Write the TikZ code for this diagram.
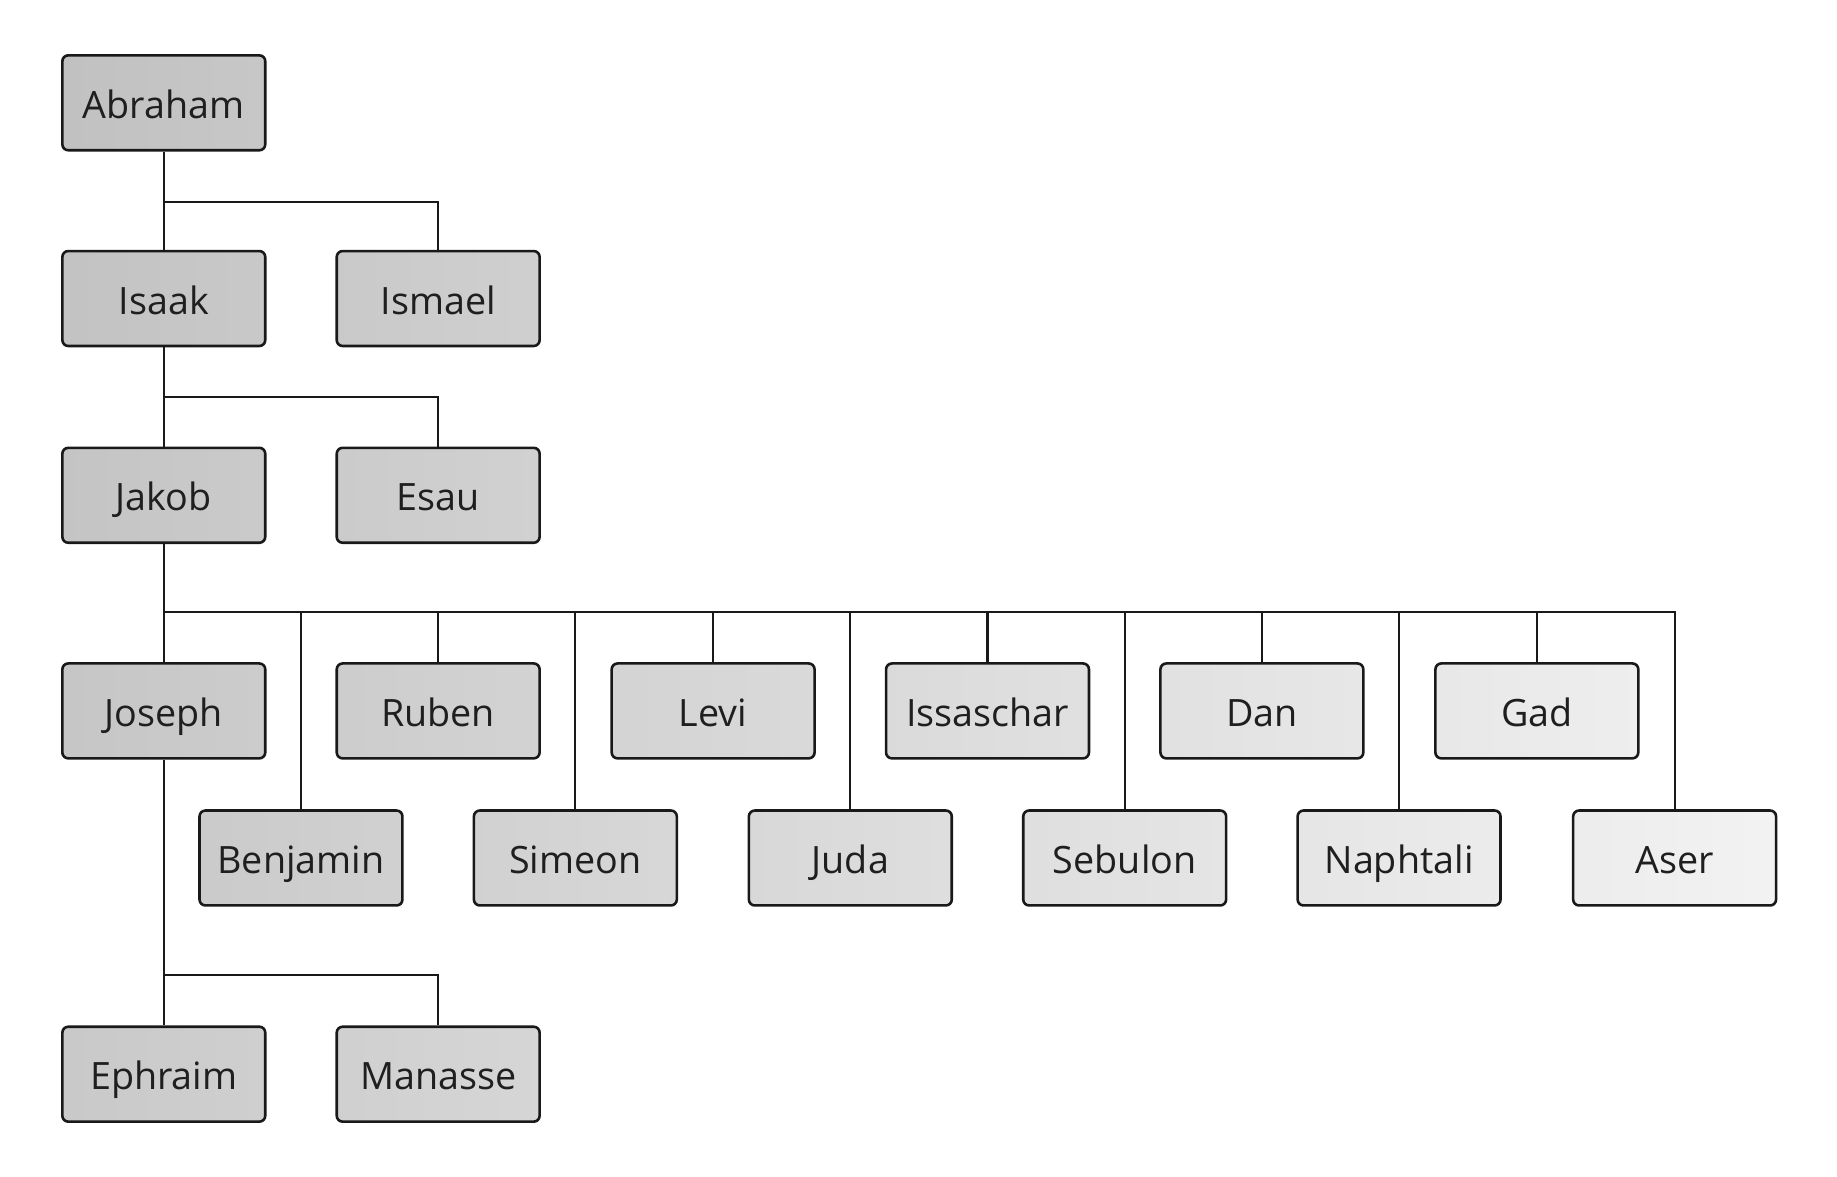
\documentclass[tikz,border=0pt]{standalone}
\usepackage{fontspec}
\setmainfont{Open Sans}
\begin{document}
\begin{tikzpicture}[x=1pt,y=1pt,
  fbox/.style={draw=black!90, line width=2.2pt, rounded corners=5pt,
    minimum width=172.3pt, minimum height=80.6pt, inner sep=0pt,
    text height=26.6pt, text depth=0pt, text=black!88,
    font=\fontsize{32}{38}\selectfont},
  conn/.style={draw=black!90, line width=1.8pt, line join=miter}]
\useasboundingbox (0,0) rectangle (1560,-999.5);
\newcommand\famnode[4]{%
  \pgfmathsetmacro\Lv{(196+0.029*(#2-139)+0.00966*(#3-88))/255}%
  \pgfmathsetmacro\Ll{\Lv-0.012}%
  \pgfmathsetmacro\Lr{\Lv+0.012}%
  \definecolor{cl#1}{gray}{\Ll}%
  \definecolor{cr#1}{gray}{\Lr}%
  \node[fbox, left color=cl#1, right color=cr#1] (#1) at (#2,-#3) {#4};}
% bus coordinates
\coordinate (b1) at (0,-171.4);
\coordinate (b2) at (0,-337.5);
\coordinate (b3) at (0,-519.6);
\coordinate (b4) at (0,-828.1);
% nodes
\famnode{abraham}{139.1}{87.3}{Abraham}
\famnode{isaak}{139.1}{253.5}{Isaak}
\famnode{ismael}{372.1}{253.5}{Ismael}
\famnode{jakob}{139.1}{420.6}{Jakob}
\famnode{esau}{372.1}{420.6}{Esau}
\famnode{joseph}{139.1}{603.7}{Joseph}
\famnode{ruben}{372.1}{603.7}{Ruben}
\famnode{levi}{605.6}{603.7}{Levi}
\famnode{issaschar}{838.6}{603.7}{Issaschar}
\famnode{dan}{1071.6}{603.7}{Dan}
\famnode{gad}{1305.1}{603.7}{Gad}
\famnode{benjamin}{255.6}{728.6}{Benjamin}
\famnode{simeon}{488.6}{728.6}{Simeon}
\famnode{juda}{722.1}{728.6}{Juda}
\famnode{sebulon}{955.1}{728.6}{Sebulon}
\famnode{naphtali}{1188.1}{728.6}{Naphtali}
\famnode{aser}{1422.1}{728.6}{Aser}
\famnode{ephraim}{139.1}{912.2}{Ephraim}
\famnode{manasse}{372.1}{912.2}{Manasse}
% connectors
\draw[conn] (abraham.south) -- (isaak.north);
\draw[conn] (abraham.south |- b1) -| (ismael.north);
\draw[conn] (isaak.south) -- (jakob.north);
\draw[conn] (isaak.south |- b2) -| (esau.north);
\draw[conn] (jakob.south) -- (joseph.north);
\draw[conn] (jakob.south |- b3) -| (aser.north);
\foreach \c in {benjamin,ruben,simeon,levi,juda,issaschar,sebulon,dan,naphtali,gad}
  \draw[conn] (\c.north |- b3) -- (\c.north);
\draw[conn] (joseph.south) -- (ephraim.north);
\draw[conn] (joseph.south |- b4) -| (manasse.north);
\end{tikzpicture}
\end{document}
